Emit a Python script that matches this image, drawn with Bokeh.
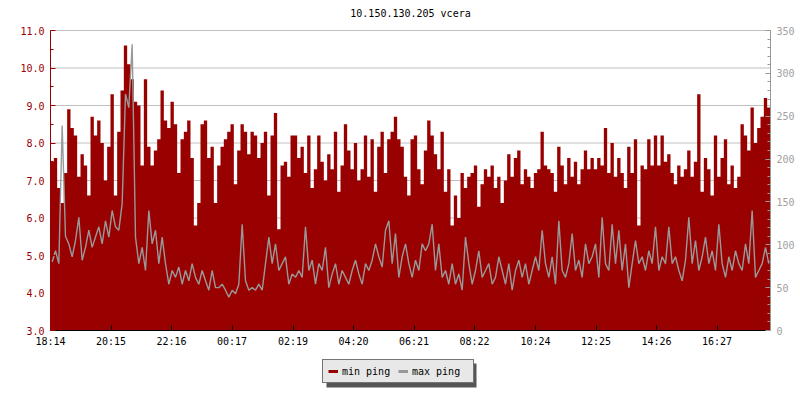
from bokeh.plotting import figure
from bokeh.models import (Range1d, LinearAxis, SingleIntervalTicker, FixedTicker,
                          PrintfTickFormatter, Legend, LegendItem, Label, BoxAnnotation)
from bokeh.embed import file_html
from bokeh.resources import INLINE

chart_title = "10.150.130.205 vcera"
tick_labels = ["18:14", "20:15", "22:16", "00:17", "02:19", "04:20",
               "06:21", "08:22", "10:24", "12:25", "14:26", "16:27"]
series_names = ["min ping", "max ping"]

# min ping (left axis)
min_ping = [
    7.5, 7.6, 6.8, 6.4, 7.2, 8.9, 8.4, 8.2, 7.1, 7.7, 7.4, 6.6, 8.7, 8.2, 8.6, 8.0, 7.0, 7.9,
    9.3, 6.6, 8.3, 9.4, 10.6, 10.1, 9.7, 9.1, 9.0, 7.4, 9.7, 7.9, 7.4, 7.8, 8.1, 9.4, 8.6, 8.4,
    9.1, 8.5, 7.2, 8.1, 8.3, 8.6, 7.6, 5.8, 6.4, 8.5, 8.6, 7.6, 7.9, 6.4, 7.4, 7.9, 8.1, 8.3,
    8.5, 6.9, 7.8, 8.5, 8.3, 7.7, 8.3, 8.2, 7.6, 8.0, 8.3, 6.6, 8.2, 8.8, 5.7, 7.4, 7.5, 7.1,
    8.2, 8.2, 7.6, 7.9, 7.2, 8.2, 6.8, 7.3, 8.2, 7.5, 7.0, 7.7, 7.3, 8.3, 6.7, 7.4, 8.5, 7.8,
    7.3, 8.0, 7.0, 7.3, 8.2, 7.1, 8.1, 6.7, 7.9, 8.3, 7.2, 8.1, 8.3, 8.7, 8.1, 7.9, 7.1, 6.6,
    8.1, 8.2, 7.3, 6.9, 7.8, 8.6, 8.2, 7.7, 7.3, 8.3, 6.7, 7.3, 5.8, 6.6, 6.0, 7.2, 6.8, 7.1,
    7.2, 7.4, 6.3, 6.9, 7.3, 7.1, 7.4, 6.8, 7.1, 6.4, 7.0, 7.7, 7.1, 7.6, 7.8, 6.9, 7.3, 7.1,
    6.8, 7.2, 7.3, 8.3, 7.4, 7.3, 7.2, 6.7, 7.9, 7.4, 6.9, 7.6, 7.1, 7.5, 6.9, 7.3, 7.8, 7.3,
    7.6, 7.3, 7.6, 7.4, 8.4, 7.2, 8.0, 7.1, 7.6, 7.2, 6.8, 7.9, 7.2, 8.1, 5.8, 7.4, 7.3, 8.1,
    7.4, 8.2, 7.4, 8.2, 7.5, 7.7, 7.2, 6.9, 7.4, 7.1, 7.3, 7.8, 7.1, 7.5, 9.3, 6.7, 7.6, 7.3,
    6.6, 8.2, 7.1, 7.6, 8.1, 6.9, 7.4, 6.8, 7.1, 8.5, 8.2, 7.8, 8.95, 8.0, 8.4, 8.7, 9.2, 8.95,
]

# max ping (right axis, ms)
max_ping = [
    80, 93, 78, 239, 110, 101, 86, 105, 132, 82, 97, 117, 97, 109, 121, 101, 128, 109,
    140, 121, 117, 148, 276, 260, 334, 109, 78, 97, 70, 140, 101, 117, 78, 109, 78, 54,
    70, 62, 74, 54, 70, 58, 78, 62, 54, 70, 58, 47, 70, 50, 50, 54, 47, 39,
    47, 43, 54, 124, 58, 47, 50, 47, 54, 47, 78, 109, 78, 101, 70, 78, 86, 54,
    66, 62, 70, 62, 121, 70, 82, 54, 78, 70, 97, 50, 66, 78, 54, 70, 62, 54,
    70, 82, 66, 54, 78, 70, 82, 101, 86, 74, 117, 128, 78, 113, 62, 86, 101, 78,
    62, 82, 70, 101, 93, 101, 124, 70, 101, 62, 70, 54, 78, 54, 66, 47, 109, 78,
    54, 70, 93, 62, 70, 78, 54, 62, 86, 70, 54, 78, 47, 70, 82, 62, 78, 54,
    70, 86, 70, 117, 78, 62, 86, 54, 128, 70, 62, 78, 113, 70, 82, 62, 101, 78,
    86, 101, 62, 132, 78, 70, 124, 78, 117, 70, 101, 50, 78, 105, 78, 86, 70, 93,
    78, 121, 70, 86, 78, 121, 78, 86, 70, 58, 82, 132, 78, 105, 70, 86, 109, 78,
    93, 70, 124, 78, 62, 86, 70, 93, 78, 70, 101, 78, 140, 62, 70, 78, 97, 78,
]

RED = "#990000"
GRAY = "#999999"
FONT = "DejaVu Sans Mono"
SPAN = 1440.0  # minutes shown

# layout (pixels); the frame covers the whole canvas, axes are pinned inside it
W, H = 800, 400
PAD_L, PAD_R = 50, 30
PAD_T, PAD_B = 30, 70
PLOT_W = W - PAD_L - PAD_R     # 720 px
PLOT_H = H - PAD_T - PAD_B     # 300 px
TITLE_Y = 13                   # px from top
LEG_X, LEG_BOTTOM = 322, 383   # legend box left / bottom (px)
LEG_W, LEG_H = 150, 24         # legend box size (px) for the drop shadow
SHADOW = 4

L_LO, L_HI = 3.0, 11.0
R_LO, R_HI = 0.0, 350.0
x_per_px = SPAN / PLOT_W
l_per_px = (L_HI - L_LO) / PLOT_H
r_per_px = (R_HI - R_LO) / PLOT_H


def px_to_x(px):
    return (px - PAD_L) * x_per_px


def py_to_y(py):
    return L_LO + (PAD_T + PLOT_H - py) * l_per_px


n = len(min_ping)
step = SPAN / n
xs = [(i + 0.5) * step for i in range(n)]
edges = [i * step for i in range(n + 1)]
min_ping_steps = min_ping + [min_ping[-1]]


def minutes(lbl):
    h, m = lbl.split(":")
    return int(h) * 60 + int(m)


start = minutes(tick_labels[0])
tick_pos = [(minutes(t) - start) % 1440 for t in tick_labels]
grid_vals = [L_LO + k for k in range(int(L_HI - L_LO) + 1)]

p = figure(width=W, height=H,
           x_range=Range1d(-PAD_L * x_per_px, SPAN + PAD_R * x_per_px),
           y_range=Range1d(L_LO - PAD_B * l_per_px, L_HI + PAD_T * l_per_px),
           output_backend="svg", toolbar_location=None,
           min_border_left=0, min_border_right=0, min_border_top=0, min_border_bottom=0)
p.extra_y_ranges = {"ms": Range1d(R_LO - PAD_B * r_per_px, R_HI + PAD_T * r_per_px)}
p.outline_line_color = None
p.background_fill_color = "white"
p.border_fill_color = "white"
p.xgrid.visible = False
p.ygrid.visible = False

# horizontal grid lines at the left-axis major ticks, spanning the data area only
p.segment(x0=[0] * len(grid_vals), x1=[SPAN] * len(grid_vals), y0=grid_vals, y1=grid_vals,
          line_color="#c0c0c0", line_width=1)

# left axis
ya = p.yaxis[0]
ya.fixed_location = 0
ya.bounds = (L_LO, L_HI)
ya.ticker = SingleIntervalTicker(interval=1, num_minor_ticks=2)
ya.formatter = PrintfTickFormatter(format="%.1f")
ya.axis_line_color = RED
ya.major_tick_line_color = RED
ya.minor_tick_line_color = RED
ya.major_tick_in = 5
ya.major_tick_out = 0
ya.minor_tick_in = 3
ya.minor_tick_out = 0
ya.major_label_text_color = RED
ya.major_label_text_font = FONT
ya.major_label_text_font_size = "10px"
ya.major_label_standoff = 6

# bottom axis
xa = p.xaxis[0]
xa.fixed_location = L_LO
xa.bounds = (0, SPAN)
xa.ticker = FixedTicker(ticks=tick_pos)
xa.major_label_overrides = {tp: lbl for tp, lbl in zip(tick_pos, tick_labels)}
xa.axis_line_color = "black"
xa.major_tick_line_color = "black"
xa.minor_tick_line_color = None
xa.major_tick_in = 5
xa.major_tick_out = 0
xa.major_label_text_font = FONT
xa.major_label_text_font_size = "10px"
xa.major_label_text_color = "black"
xa.major_label_standoff = 5

# right axis
ra = LinearAxis(y_range_name="ms", bounds=(R_LO, R_HI), fixed_location=SPAN)
ra.ticker = SingleIntervalTicker(interval=50, num_minor_ticks=5)
ra.axis_line_color = GRAY
ra.major_tick_line_color = GRAY
ra.minor_tick_line_color = GRAY
ra.major_tick_in = 5
ra.major_tick_out = 0
ra.minor_tick_in = 3
ra.minor_tick_out = 0
ra.major_label_text_color = "#a0a0a0"
ra.major_label_text_font = FONT
ra.major_label_text_font_size = "10px"
ra.major_label_standoff = 6
p.add_layout(ra, "right")

# data
p.varea_step(x=edges, y1=[L_LO] * (n + 1), y2=min_ping_steps, step_mode="after", fill_color=RED)
p.line(xs, max_ping, y_range_name="ms", line_color=GRAY, line_width=1.4)

# title
p.add_layout(Label(x=SPAN / 2, y=L_HI + (PAD_T - TITLE_Y) * l_per_px, text=chart_title,
                   text_align="center", text_baseline="middle", text_font=FONT,
                   text_font_size="10px", text_color="black"))

# legend drop shadow
p.add_layout(BoxAnnotation(left=px_to_x(LEG_X + SHADOW), right=px_to_x(LEG_X + SHADOW + LEG_W),
                           top=py_to_y(LEG_BOTTOM + SHADOW - LEG_H),
                           bottom=py_to_y(LEG_BOTTOM + SHADOW),
                           fill_color="#555555", fill_alpha=1, line_color=None))

# legend proxies (placed outside the visible x range, used only for the swatches)
px_off = [-3 * SPAN, -2 * SPAN]
py_off = [L_LO, L_LO]
l1 = p.line(px_off, py_off, line_color=RED, line_width=3)
l2 = p.line(px_off, py_off, line_color=GRAY, line_width=3)

legend = Legend(items=[LegendItem(label=series_names[0], renderers=[l1]),
                       LegendItem(label=series_names[1], renderers=[l2])],
                location=(LEG_X, H - LEG_BOTTOM),
                orientation="horizontal", padding=5, spacing=0, glyph_width=10,
                glyph_height=12, label_standoff=4, label_width=56, label_text_font=FONT,
                label_text_font_size="10px", margin=0,
                background_fill_color="#e8e8e8", background_fill_alpha=1,
                border_line_color="black", border_line_width=1, label_text_color="black")
p.add_layout(legend, "center")

open("out.html", "w").write(file_html(p, INLINE))
